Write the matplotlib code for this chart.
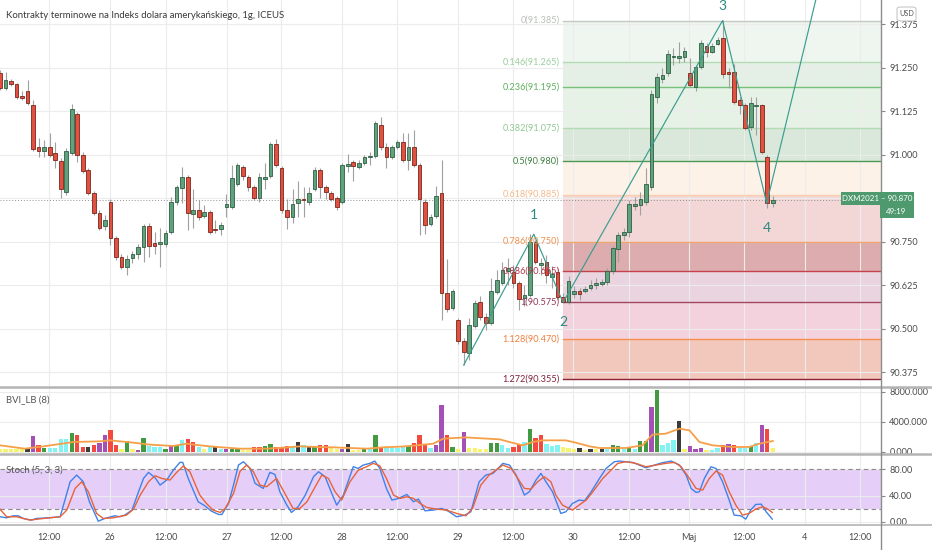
import matplotlib
matplotlib.use('Agg')
import matplotlib.pyplot as plt
from matplotlib.lines import Line2D
from matplotlib.patches import Rectangle, FancyBboxPatch
from matplotlib.ticker import FormatStrFormatter
import numpy as np

plt.rcParams['font.family'] = ['Lato', 'DejaVu Sans']

# ---------------- data ----------------
title = "Kontrakty terminowe na Indeks dolara amerykańskiego, 1g, ICEUS"

opens = [91.234, 91.191, 91.211, 91.203, 91.168, 91.182, 91.142, 91.022, 91.010, 91.022,
         91.004, 90.981, 90.892, 91.004, 91.116, 90.999, 90.955, 90.889, 90.832, 90.795,
         90.864, 90.760, 90.705, 90.677, 90.703, 90.714, 90.734, 90.795, 90.746, 90.743,
         90.743, 90.777, 90.864, 90.904, 90.935, 90.829, 90.841, 90.823, 90.835, 90.786,
         90.786, 90.849, 90.849, 90.915, 90.964, 90.935, 90.907, 90.875, 90.930, 90.938,
         91.030, 90.961, 90.841, 90.820, 90.861, 90.872, 90.864, 90.901, 90.955, 90.907,
         90.889, 90.875, 90.864, 90.967, 90.978, 90.964, 90.976, 90.993, 90.996, 91.085,
         91.022, 90.993, 91.022, 91.036, 90.984, 91.022, 90.970, 90.864, 90.800, 90.823,
         90.889, 90.602, 90.559, 90.524, 90.464, 90.430, 90.507, 90.576, 90.533, 90.516,
         90.605, 90.631, 90.665, 90.662, 90.631, 90.588, 90.596, 90.749, 90.682, 90.691,
         90.648, 90.662, 90.590, 90.576, 90.599, 90.608, 90.608, 90.616, 90.625, 90.628,
         90.634, 90.665, 90.728, 90.769, 90.777, 90.852, 90.855, 90.864, 90.907, 91.165,
         91.217, 91.234, 91.280, 91.277, 91.280, 91.234, 91.194, 91.251, 91.312, 91.295,
         91.318, 91.335, 91.237, 91.237, 91.157, 91.142, 91.079, 91.139, 91.142, 90.993,
         90.861]
highs = [91.243, 91.237, 91.217, 91.205, 91.182, 91.214, 91.157, 91.047, 91.042, 91.062,
         91.036, 90.990, 91.019, 91.145, 91.122, 91.007, 90.961, 90.895, 90.841, 90.826,
         90.872, 90.766, 90.714, 90.711, 90.723, 90.743, 90.800, 90.803, 90.777, 90.789,
         90.783, 90.878, 90.912, 90.964, 90.941, 90.901, 90.869, 90.855, 90.841, 90.812,
         90.806, 90.886, 90.970, 90.976, 90.970, 90.941, 90.912, 90.947, 90.976, 91.036,
         91.044, 90.967, 90.872, 90.901, 90.924, 90.907, 90.907, 90.964, 90.961, 90.912,
         90.895, 90.881, 90.976, 91.001, 90.984, 90.984, 90.999, 91.007, 91.096, 91.108,
         91.033, 91.027, 91.042, 91.062, 91.062, 91.070, 90.976, 90.872, 90.829, 90.909,
         90.984, 90.700, 90.613, 90.530, 90.473, 90.530, 90.582, 90.593, 90.544, 90.645,
         90.668, 90.691, 90.703, 90.682, 90.636, 90.625, 90.772, 90.754, 90.703, 90.711,
         90.679, 90.674, 90.602, 90.651, 90.622, 90.616, 90.622, 90.639, 90.645, 90.642,
         90.674, 90.737, 90.777, 90.789, 90.869, 90.878, 90.892, 90.961, 91.185, 91.234,
         91.249, 91.300, 91.306, 91.323, 91.309, 91.277, 91.257, 91.329, 91.320, 91.320,
         91.338, 91.387, 91.249, 91.260, 91.165, 91.148, 91.165, 91.165, 91.145, 90.999,
         90.881]
lows = [91.185, 91.185, 91.197, 91.159, 91.157, 91.142, 91.010, 90.993, 90.993, 90.993,
        90.961, 90.875, 90.884, 90.999, 90.978, 90.947, 90.884, 90.826, 90.783, 90.783,
        90.740, 90.697, 90.671, 90.654, 90.688, 90.700, 90.691, 90.705, 90.714, 90.677,
        90.734, 90.772, 90.855, 90.861, 90.783, 90.789, 90.812, 90.818, 90.772, 90.774,
        90.769, 90.820, 90.843, 90.909, 90.927, 90.895, 90.869, 90.864, 90.901, 90.932,
        90.964, 90.832, 90.786, 90.803, 90.820, 90.820, 90.855, 90.895, 90.875, 90.872,
        90.866, 90.841, 90.858, 90.950, 90.924, 90.958, 90.970, 90.970, 90.990, 91.013,
        90.961, 90.987, 91.016, 90.978, 90.955, 90.964, 90.769, 90.772, 90.795, 90.818,
        90.524, 90.547, 90.553, 90.455, 90.395, 90.409, 90.501, 90.524, 90.496, 90.510,
        90.599, 90.625, 90.625, 90.616, 90.553, 90.565, 90.590, 90.685, 90.654, 90.631,
        90.616, 90.582, 90.573, 90.570, 90.588, 90.582, 90.602, 90.611, 90.613, 90.622,
        90.625, 90.656, 90.691, 90.754, 90.763, 90.841, 90.826, 90.855, 90.898, 91.148,
        91.205, 91.226, 91.257, 91.263, 91.266, 91.194, 91.182, 91.246, 91.280, 91.292,
        91.315, 91.220, 91.191, 91.145, 91.116, 91.070, 91.070, 91.056, 91.001, 90.846,
        90.849]
closes = [91.191, 91.214, 91.203, 91.165, 91.162, 91.148, 91.016, 91.010, 91.022, 90.999,
          90.984, 90.901, 91.010, 91.131, 90.999, 90.953, 90.889, 90.832, 90.789, 90.812,
          90.760, 90.705, 90.677, 90.700, 90.714, 90.734, 90.795, 90.737, 90.737, 90.749,
          90.774, 90.864, 90.907, 90.935, 90.832, 90.841, 90.820, 90.835, 90.777, 90.783,
          90.797, 90.858, 90.932, 90.970, 90.938, 90.907, 90.875, 90.935, 90.935, 91.030,
          90.970, 90.841, 90.820, 90.858, 90.872, 90.869, 90.889, 90.955, 90.907, 90.892,
          90.872, 90.849, 90.970, 90.973, 90.967, 90.976, 90.993, 90.996, 91.090, 91.022,
          90.993, 91.022, 91.036, 90.984, 91.022, 90.970, 90.872, 90.797, 90.820, 90.881,
          90.602, 90.556, 90.608, 90.464, 90.432, 90.510, 90.573, 90.533, 90.516, 90.608,
          90.639, 90.668, 90.674, 90.631, 90.585, 90.596, 90.749, 90.691, 90.688, 90.654,
          90.656, 90.590, 90.576, 90.636, 90.608, 90.599, 90.613, 90.625, 90.631, 90.634,
          90.665, 90.731, 90.769, 90.777, 90.858, 90.858, 90.872, 90.915, 91.174, 91.223,
          91.228, 91.289, 91.283, 91.283, 91.297, 91.200, 91.251, 91.320, 91.295, 91.312,
          91.329, 91.231, 91.231, 91.151, 91.142, 91.076, 91.148, 91.142, 91.007, 90.861,
          90.870]

# BVI_LB volume bars (value, colour class)
volumes = [355, 355, 355, 355, 355, 444, 2089, 888, 533, 533,
           533, 1688, 1777, 2578, 2222, 666, 666, 977, 1244, 2311,
           2889, 888, 355, 1422, 444, 311, 1911, 800, 711, 666,
           444, 888, 977, 1555, 1777, 1333, 666, 355, 755, 755,
           444, 355, 444, 355, 222, 222, 666, 666, 755, 1022,
           666, 666, 755, 666, 1333, 888, 666, 666, 977, 977,
           533, 444, 444, 1111, 311, 222, 444, 444, 2311, 666,
           533, 533, 533, 666, 800, 1244, 2311, 1066, 533, 888,
           6222, 2222, 622, 355, 2666, 533, 533, 355, 355, 1244,
           1244, 888, 533, 622, 1022, 1333, 3111, 1911, 2222, 1022,
           800, 977, 666, 533, 355, 533, 222, 444, 444, 444,
           355, 977, 755, 444, 622, 444, 1422, 1466, 6000, 8222,
           888, 1200, 1555, 4089, 444, 755, 444, 533, 222, 311,
           577, 888, 1111, 977, 577, 577, 755, 1244, 3644, 3111,
           533]
vol_class = ("YYYYYKPRGC" "CCCGRRKRPP" "RRYGYPGCCC" "GPGCRRCYCK" "CPGGYYRRGG"
             "RRRCKCKGRR" "YYPKYYGCGR" "CCCCGRRRCP" "PRGYPYYYYG" "GCCRRCGRRC"
             "CCYYYKYKYK" "CGGCGCGGPG" "CCCKYPPPYC" "CRPRCCGCPR" "Y")
vol_ma_x = [0, 4.5, 7.9, 13.3, 18.1, 19.9, 24.2, 27.2, 31.4, 33.8, 36.2, 39.3, 43.5, 48.3,
            51.3, 54.3, 57.4, 60.4, 63.4, 66.4, 69.4, 72.5, 75.5, 78.5, 80.3, 84.4, 86.2,
            90.5, 92.3, 94.7, 96.5, 98.3, 102.5, 104.3, 106.8, 108.6, 113.4, 116.4, 118.2,
            120.6, 123.1, 124.9, 126.7, 129.1, 132.7, 135.7, 137.6, 140]
vol_ma_y = [888, 444, 755, 1333, 1422, 1555, 1244, 977, 800, 1111, 888, 666, 444, 444,
            577, 755, 666, 622, 533, 444, 622, 711, 888, 1111, 1777, 1950, 1866,
            1688, 1333, 888, 1333, 1555, 1555, 1244, 755, 533, 533, 888, 2311,
            2444, 3111, 2888, 1333, 888, 666, 666, 1111, 1466]

# Stochastic (5,3,3): %K and %D turning points (bar index, value)
k_x = [0, 1.2, 2.4, 3.3, 4.2, 5.7, 6.6, 8.8, 10.9, 12.7, 13.9, 15.1, 16.2, 17.8, 19.0, 20.8,
       21.7, 22.6, 23.9, 25.1, 26.0, 26.9, 28.1, 29.0, 30.2, 31.4, 32.6, 33.1, 34.1, 35.9,
       37.1, 38.3, 39.6, 40.2, 41.4, 42.3, 43.2, 44.1, 45.3, 46.2, 47.7, 48.9, 49.8, 50.7,
       51.9, 52.8, 54.0, 55.3, 56.8, 57.7, 58.9, 60.1, 61.0, 62.2, 64.0, 64.9, 65.8, 67.0,
       67.9, 68.8, 70.0, 71.0, 72.2, 73.7, 74.9, 75.8, 77.0, 78.5, 80.0, 81.2, 82.7, 84.2,
       85.3, 86.8, 88.0, 89.3, 90.5, 91.1, 92.3, 93.5, 95.0, 95.9, 97.1, 98.0, 98.9, 100.1,
       101.6, 102.5, 103.7, 104.9, 105.9, 107.1, 108.6, 109.8, 111.3, 112.2, 113.4, 114.6,
       115.8, 117.0, 118.2, 120.0, 121.6, 123.1, 124.3, 125.2, 126.1, 126.7, 127.6, 128.8,
       129.7, 130.9, 132.1, 133.0, 134.2, 135.1, 136.0, 136.9, 137.9, 138.8, 139.9]
k_y = [7.6, 6.0, 9.1, 9.1, 5.0, 2.5, 5.0, 6.0, 7.6, 61.1, 71.3, 61.1, 30.5, 0.9, 5.0, 9.1,
       7.6, 10.1, 17.8, 45.8, 66.2, 75.4, 67.2, 56.0, 63.7, 78.9, 90.7, 90.7, 66.2, 30.5,
       24.4, 16.2, 11.1, 11.1, 27.9, 56.0, 86.6, 91.7, 81.5, 58.6, 50.9, 75.4, 72.3, 45.8,
       26.4, 14.2, 22.9, 40.7, 68.8, 76.4, 68.8, 43.3, 25.4, 40.7, 84.1, 81.5, 86.6, 89.2,
       92.7, 81.5, 50.9, 33.1, 35.6, 41.7, 30.5, 34.6, 16.7, 17.8, 20.3, 16.2, 7.6, 10.0,
       15.2, 61.1, 71.3, 73.9, 84.0, 89.2, 86.6, 71.3, 40.7, 45.8, 63.7, 73.9, 61.1, 45.8,
       12.7, 15.2, 27.9, 33.1, 32.0, 45.8, 66.2, 81.5, 91.7, 92.7, 91.7, 90.7,
       86.6, 82.5, 85.6, 90.2, 92.7, 86.6, 71.3, 50.9, 44.8, 45.8, 66.2, 84.0,
       81.5, 61.1, 33.1, 10.1, 9.1, 4.0, 17.8, 26.4, 26.9, 15.2, 4.0]
d_x = [0, 1.2, 3.0, 5.4, 7.9, 10.9, 12.1, 13.6, 14.8, 16.0, 17.5, 18.7, 20.5, 22.9, 24.2,
       25.4, 26.9, 28.1, 29.3, 30.8, 32.0, 33.2, 34.4, 36.2, 37.4, 38.6, 39.9, 40.8, 42.3,
       43.5, 44.7, 45.9, 47.1, 48.3, 50.1, 51.6, 53.1, 54.3, 55.6, 57.1, 58.3, 59.5, 60.7,
       61.9, 63.4, 64.9, 66.4, 67.6, 68.8, 70.0, 71.3, 72.5, 73.7, 74.9, 76.1, 77.3, 79.1,
       80.9, 82.7, 84.4, 85.6, 87.1, 88.6, 91.1, 92.6, 93.8, 95.0, 96.2, 97.4, 98.6, 99.8,
       100.7, 101.9, 103.7, 104.9, 106.2, 107.4, 109.2, 110.4, 111.9, 113.4, 115.2, 117.0,
       118.8, 120.6, 122.2, 123.4, 124.9, 126.1, 127.3, 128.5, 129.7, 130.9, 132.1, 133.3,
       134.5, 135.7, 136.9, 138.2, 139.1, 139.9]
d_y = [19.3, 7.6, 7.6, 2.5, 5.0, 7.6, 17.8, 50.9, 61.1, 45.8, 12.7, 5.0, 6.0, 10.1, 19.3,
       40.7, 61.1, 70.3, 66.2, 63.7, 75.4, 85.1, 76.4, 40.7, 27.9, 17.8, 14.2, 20.3, 43.3,
       77.4, 86.6, 76.4, 56.0, 53.5, 66.2, 43.3, 20.3, 20.3, 30.5, 53.5, 71.3, 66.2, 45.8,
       33.1, 61.1, 78.9, 84.0, 89.2, 85.6, 66.2, 40.7, 35.6, 38.2, 35.6, 28.0, 21.8, 19.3,
       17.8, 12.7, 9.1, 20.3, 56.0, 71.3, 86.6, 81.5, 66.2, 50.9, 49.9, 61.1, 68.8, 61.1,
       40.7, 25.4, 17.8, 25.4, 33.1, 45.8, 66.2, 76.4, 89.2, 91.7, 89.2, 84.0,
       86.6, 89.2, 90.7, 84.0, 66.2, 50.9, 48.4, 66.2, 77.4, 71.3, 45.8, 25.4,
       10.1, 12.7, 19.3, 22.9, 19.3, 14.2]

# Fibonacci retracement (drawn from wave 2 low to wave 3 high)
fib_ratios = ["0", "0.146", "0.236", "0.382", "0.5", "0.618", "0.786", "0.886", "1", "1.128", "1.272"]
fib_prices = [91.385, 91.265, 91.195, 91.075, 90.980, 90.885, 90.750, 90.665, 90.575, 90.470, 90.355]
fib_start = 102

# Elliott wave zigzag
wave_x = [84, 96.7, 102, 130.9, 138.9, 150]
wave_y = [90.395, 90.771, 90.575, 91.385, 90.860, 91.59]
wave_labels = ["", "1", "2", "3", "4"]

last_price = 90.870
countdown = "49:19"
symbol = "DXM2021"
time_ticks = [8.9, 19.9, 30.1, 41.1, 50.9, 62.0, 71.9, 83.0, 92.9, 103.8, 113.9, 124.8, 134.8, 145.8, 155.8]
time_labels = ["12:00", "26", "12:00", "27", "12:00", "28", "12:00", "29", "12:00", "30", "12:00",
               "Maj", "12:00", "4", "12:00"]
price_ticks = [90.375, 90.5, 90.625, 90.75, 90.875, 91.0, 91.125, 91.25, 91.375]
price_labels = ["90.375", "90.500", "90.625", "90.750", "", "91.000", "91.125", "91.250", "91.375"]

# ---------------- styling ----------------
W, H = 932, 550
fig = plt.figure(figsize=(W / 100, H / 100), dpi=100)
fig.patch.set_facecolor('white')


def fy(py):
    return 1 - py / H


XR = 881
ax = fig.add_axes([0, fy(387), XR / W, 387 / H])
axv = fig.add_axes([0, fy(454), XR / W, (454 - 388) / H], sharex=ax)
axs = fig.add_axes([0, fy(525), XR / W, (525 - 455) / H], sharex=ax)

GRID = '#ececec'
LBL = '#4a4a4a'
for a in (ax, axv, axs):
    for s in a.spines.values():
        s.set_visible(False)
    a.yaxis.tick_right()
    a.tick_params(axis='y', length=3, color='#888888', labelsize=6.6, labelcolor=LBL, pad=3)
    a.tick_params(axis='x', length=0)
    a.set_xticks(time_ticks)
    a.grid(True, color=GRID, lw=0.8, zorder=0)
    a.set_axisbelow(True)

ax.set_xlim(0, 159.6)
ax.set_ylim(90.332, 91.444)
ax.set_yticks(price_ticks)
ax.set_yticklabels(price_labels)
ax.tick_params(axis='x', labelbottom=False)
axv.tick_params(axis='x', labelbottom=False)
axs.set_xticklabels(time_labels)
axs.tick_params(axis='x', labelsize=6.6, labelcolor=LBL, pad=6)

# Fibonacci zones
fib_fill = ['#edf6ee', '#e2efe3', '#e5f1e5', '#d6e6d7', '#fdf1e6',
            '#f3d4d4', '#dba5a7', '#e9d1dd', '#f2cfdc', '#f2c4b7']
fib_line = ['#c2c8c2', '#b3dbb4', '#76c277', '#b3dbb4', '#4f9a52',
            '#f8cfae', '#f0a56f', '#c3424e', '#a2475f', '#f58f50', '#8c2339']
fib_text = ['#b9bfb9', '#9ccd9d', '#5fb05f', '#92c793', '#3f7f40',
            '#f4b98c', '#ee924f', '#b2354a', '#933655', '#f07f3c', '#82233a']
x_end = 159.6
for i in range(len(fib_prices) - 1):
    ax.fill_between([fib_start, x_end], fib_prices[i], fib_prices[i + 1],
                    color=fib_fill[i], lw=0, zorder=0.5, alpha=0.92)
for i, (r, p) in enumerate(zip(fib_ratios, fib_prices)):
    ax.plot([fib_start, x_end], [p, p], color=fib_line[i], lw=1.0, zorder=1)
    ax.text(fib_start - 0.6, p, f"{r}({p:.3f})", color=fib_text[i], fontsize=6.6,
            ha='right', va='center', zorder=6)

# candles
x = np.arange(len(opens))
o = np.array(opens); c = np.array(closes)
up = c >= o
ax.vlines(x, lows, highs, color='#a0a0a0', lw=0.8, zorder=3)
bot = np.minimum(o, c)
hgt = np.maximum(np.abs(c - o), 0.0025)
ax.bar(x, hgt, bottom=bot, width=0.66,
       color=np.where(up, '#5fa27c', '#e0513f'),
       edgecolor=np.where(up, '#2f5e45', '#7a261c'), lw=0.6, zorder=4)

# last price
ax.axhline(last_price, color='#8f8f8f', lw=0.7, ls=(0, (1, 2)), zorder=2)

# wave zigzag
ax.plot(wave_x, wave_y, color='#3a9d8f', lw=0.85, zorder=5)
offs = [0, 19, -20, 15, -25]
for i in range(1, 5):
    ax.annotate(wave_labels[i], (wave_x[i], wave_y[i]), xytext=(0, offs[i]),
                textcoords='offset pixels', ha='center', va='center',
                color='#2a8a80', fontsize=10, zorder=7, annotation_clip=False)

# volume panel
cmap = {'Y': '#f6f36d', 'C': '#82f2f2', 'G': '#449a41', 'R': '#f24a3f', 'P': '#a450b5', 'K': '#3b3b3b'}
axv.bar(x, volumes, width=0.78, color=[cmap[k] for k in vol_class], lw=0, zorder=2)
axv.plot(vol_ma_x, vol_ma_y, color='#f5a048', lw=1.3, zorder=3)
axv.set_ylim(-267, 8533)
axv.set_yticks([0, 4000, 8000])
axv.yaxis.set_major_formatter(FormatStrFormatter('%.3f'))

# stochastic panel
axs.axhspan(20, 80, color='#e5cff9', zorder=0.2, lw=0)
axs.axhline(80, color='#8a8a8a', lw=0.8, ls=(0, (4, 3)), zorder=1)
axs.axhline(20, color='#8a8a8a', lw=0.8, ls=(0, (4, 3)), zorder=1)
axs.plot(k_x, k_y, color='#3f82e8', lw=1.0, zorder=3)
axs.plot(d_x, d_y, color='#e8633a', lw=1.0, zorder=3)
axs.set_ylim(-5, 102)
axs.set_yticks([0, 40, 80])
axs.yaxis.set_major_formatter(FormatStrFormatter('%.2f'))

# panel texts
fig.text(6 / W, fy(16), title, fontsize=6.9, color='#3a3a3a', va='center', ha='left')
fig.text(6 / W, fy(400), "BVI_LB (8)", fontsize=6.8, color='#555555', va='center', ha='left')
fig.text(6 / W, fy(470), "Stoch (5, 3, 3)", fontsize=6.8, color='#555555', va='center', ha='left')

# separators and right axis line
for yy, lw in ((387, 1.8), (454, 1.8), (525, 1.2)):
    fig.add_artist(Line2D([0, 1], [fy(yy), fy(yy)], color='#b4b4b4', lw=lw))
fig.add_artist(Line2D([XR / W, XR / W], [0, 1], color='#8c8c8c', lw=1.0))

# last price label (L-shaped badge)
BOX = '#4e9a6e'
fig.add_artist(Rectangle((841 / W, fy(205)), (914 - 841) / W, 13 / H, facecolor=BOX,
                         edgecolor='none', zorder=10))
fig.add_artist(Rectangle((880 / W, fy(218)), (914 - 880) / W, 13.5 / H, facecolor=BOX,
                         edgecolor='none', zorder=10))
fig.text(877 / W, fy(198.5), f"{symbol} \u2013 {last_price:.3f}", fontsize=5.7, color='white',
         ha='center', va='center', zorder=11)
fig.text(896 / W, fy(211.5), countdown, fontsize=5.7, color='white', ha='center', va='center', zorder=11)

# USD badge
fig.add_artist(FancyBboxPatch((897 / W, fy(21)), 19 / W, 14 / H,
                              boxstyle='round,pad=0,rounding_size=0.004',
                              facecolor='white', edgecolor='#c8c8c8', lw=0.8, zorder=10))
fig.text(906.5 / W, fy(14), "USD", fontsize=5.2, color='#555555', ha='center', va='center', zorder=11)

fig.savefig('out.png', dpi=100)
